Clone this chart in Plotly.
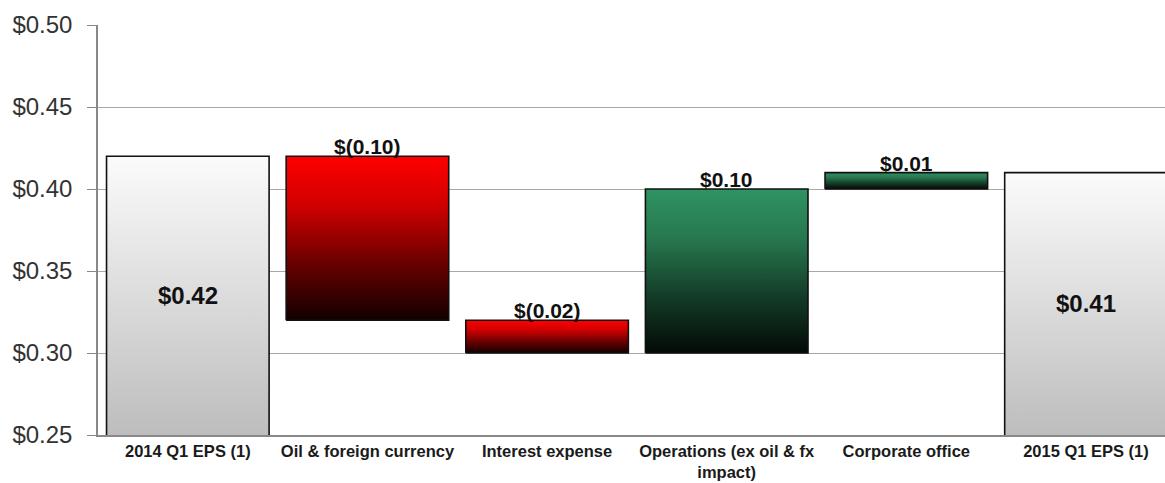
import plotly.graph_objects as go

categories = ["2014 Q1 EPS (1)", "Oil & foreign currency", "Interest expense",
              "Operations (ex oil & fx<br>impact)", "Corporate office", "2015 Q1 EPS (1)"]
bar_low = [0.0, 0.32, 0.30, 0.30, 0.40, 0.0]
bar_high = [0.42, 0.42, 0.32, 0.40, 0.41, 0.41]
value_labels = ["$0.42", "$(0.10)", "$(0.02)", "$0.10", "$0.01", "$0.41"]
kinds = ["total", "neg", "neg", "pos", "pos", "total"]
y_ticks = [0.25, 0.30, 0.35, 0.40, 0.45, 0.50]

Y_MIN, Y_MAX = 0.25, 0.50
BAR_W = 0.905
FONT = "Liberation Sans"

scales = {
    "total": [[0, "#bdbdbd"], [0.5, "#dcdcdc"], [1, "#fbfbfb"]],
    "neg": [[0, "#120000"], [0.35, "#6a0000"], [0.7, "#d00000"], [1, "#ff0000"]],
    "pos": [[0, "#030a06"], [0.35, "#143d28"], [0.7, "#27784f"], [1, "#2f9363"]],
}

fig = go.Figure()
for i, (lo, hi, kind) in enumerate(zip(bar_low, bar_high, kinds)):
    x0, x1 = i - BAR_W / 2, i + BAR_W / 2
    fig.add_trace(go.Scatter(
        x=[x0, x1, x1, x0, x0],
        y=[lo, lo, hi, hi, lo],
        mode="lines",
        fill="toself",
        fillgradient=dict(type="vertical", colorscale=scales[kind],
                          start=max(lo, Y_MIN), stop=hi),
        line=dict(color="#111111", width=1.6),
        hoverinfo="skip",
        showlegend=False,
    ))

annotations = []
for i, (lo, hi, kind, lab) in enumerate(zip(bar_low, bar_high, kinds, value_labels)):
    if kind == "total":
        annotations.append(dict(x=i, y=(max(lo, Y_MIN) + hi) / 2, text=f"<b>{lab}</b>",
                                showarrow=False, xanchor="center", yanchor="middle",
                                font=dict(size=24, color="#111111", family=FONT)))
    else:
        annotations.append(dict(x=i, y=hi, text=f"<b>{lab}</b>", showarrow=False,
                                xanchor="center", yanchor="bottom", yshift=-4,
                                font=dict(size=21, color="#111111", family=FONT)))

fig.update_layout(
    width=1165, height=483,
    margin=dict(l=98, r=0, t=25, b=48),
    paper_bgcolor="white", plot_bgcolor="white",
    annotations=annotations,
    font=dict(family=FONT, color="#222222"),
    xaxis=dict(
        range=[-0.5, 5.44],
        tickvals=list(range(len(categories))),
        ticktext=[f"<b>{c}</b>" for c in categories],
        tickfont=dict(size=16.5, color="#1a1a1a"),
        showgrid=False, zeroline=False,
        showline=True, linecolor="#888888", linewidth=1.5,
        ticks="", automargin=False, fixedrange=True,
    ),
    yaxis=dict(
        range=[Y_MIN, Y_MAX],
        tickvals=y_ticks,
        ticktext=[f"${v:.2f}" for v in y_ticks],
        tickfont=dict(size=24, color="#333333"),
        showgrid=True, gridcolor="#a8a8a8", gridwidth=1,
        zeroline=False,
        showline=True, linecolor="#888888", linewidth=1.5,
        ticks="outside", ticklen=9, tickcolor="#888888",
        ticklabelstandoff=10, automargin=False,
    ),
)

fig.write_html(
    "out.html",
    config={"displayModeBar": False},
    post_script="document.body.style.margin='0';document.body.style.overflow='hidden';",
)
